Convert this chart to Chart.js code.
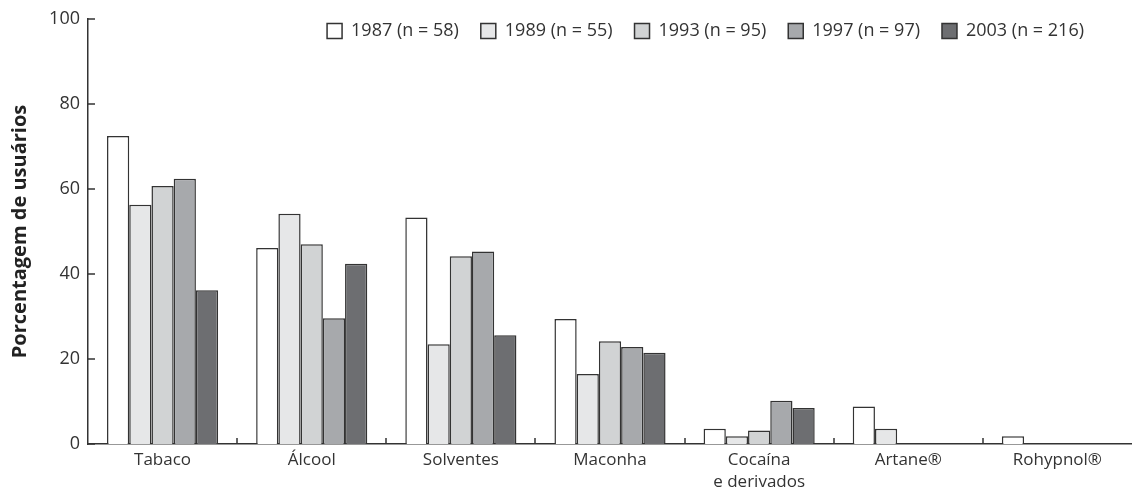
<!DOCTYPE html>
<html>
<head>
<meta charset="utf-8">
<script src="https://cdn.jsdelivr.net/npm/chart.js@4"></script>
<style>
  html, body { margin: 0; padding: 0; background: #fff; }
  #wrap { width: 1132px; height: 498px; }
</style>
</head>
<body>
<div id="wrap"><canvas id="myChart"></canvas></div>
<script>
const ctx = document.getElementById("myChart");

const substances = ["Tabaco", "Álcool", "Solventes", "Maconha", ["Cocaína", "e derivados"], "Artane®", "Rohypnol®"];
const years = ["1987 (n = 58)", "1989 (n = 55)", "1993 (n = 95)", "1997 (n = 97)", "2003 (n = 216)"];

const y1987 = [72.5, 46.1, 53.3, 29.4, 3.6, 8.8, 1.8];
const y1989 = [56.3, 54.2, 23.5, 16.5, 1.8, 3.6, 0];
const y1993 = [60.7, 47.0, 44.2, 24.2, 3.2, 0, 0];
const y1997 = [62.4, 29.6, 45.3, 22.8, 10.2, 0, 0];
const y2003 = [36.2, 42.4, 25.6, 21.5, 8.5, 0, 0];

const yTicks = [0, 20, 40, 60, 80, 100];

const colors = ["#ffffff", "#e6e7e8", "#d1d3d4", "#a7a9ac", "#6d6e71"];
const series = [y1987, y1989, y1993, y1997, y2003];

const ink = "#333333";
const font = "'Open Sans', 'Noto Sans', sans-serif";

// small tick marks drawn inward from the axes
const innerTicks = {
  id: "innerTicks",
  afterDatasetsDraw(chart) {
    const { ctx, scales: { x, y }, chartArea } = chart;
    ctx.save();
    ctx.strokeStyle = ink;
    ctx.lineWidth = 1.5;
    ctx.beginPath();
    for (let i = 1; i < x.ticks.length; i++) {
      const px = Math.round((x.getPixelForTick(i - 1) + x.getPixelForTick(i)) / 2);
      ctx.moveTo(px, chartArea.bottom);
      ctx.lineTo(px, chartArea.bottom - 6);
    }
    y.ticks.forEach((t, i) => {
      const py = y.getPixelForTick(i);
      ctx.moveTo(chartArea.left, py);
      ctx.lineTo(chartArea.left + 7, py);
    });
    ctx.stroke();
    ctx.restore();
  },
};

// legend takes no vertical room and sits over the top of the plot
const legendInside = {
  id: "legendInside",
  beforeLayout(chart) {
    const lg = chart.legend;
    if (lg && !lg._patched) {
      const fit = lg.fit;
      lg.fit = function () {
        fit.call(this);
        this._realHeight = this.height;
        this.height = 0;
      };
      lg._patched = true;
    }
  },
  afterLayout(chart) {
    const lg = chart.legend;
    lg.right -= 26;
    lg.width = lg.right - lg.left;
    lg.top -= 19;
    lg.height = lg._realHeight;
    lg.bottom = lg.top + lg.height;
    lg.adjustHitBoxes();
  },
};

new Chart(ctx, {
  type: "bar",
  data: {
    labels: substances,
    datasets: years.map((label, i) => ({
      label: label,
      data: series[i],
      backgroundColor: colors[i],
      borderColor: ink,
      borderWidth: 1.5,
      categoryPercentage: 0.745,
      barPercentage: 1,
    })),
  },
  options: {
    responsive: true,
    maintainAspectRatio: false,
    animation: false,
    layout: { padding: { top: 19, right: 0, left: 0, bottom: 0 } },
    scales: {
      x: {
        grid: { display: false, drawTicks: false },
        border: { display: true, color: ink, width: 1.5 },
        ticks: {
          color: ink,
          padding: 5,
          maxRotation: 0,
          autoSkip: false,
          font: { family: font, size: 17, lineHeight: 1.3 },
        },
        afterFit(scale) {
          scale.height = 54;
        },
      },
      y: {
        min: 0,
        max: 100,
        afterBuildTicks(scale) {
          scale.ticks = yTicks.map((v) => ({ value: v }));
        },
        grid: { display: false, drawTicks: false },
        border: { display: true, color: ink, width: 1.5 },
        ticks: {
          color: ink,
          padding: 8,
          font: { family: font, size: 18 },
        },
        title: {
          display: true,
          text: "Porcentagem de usuários",
          color: "#222",
          padding: { top: 8, bottom: 0 },
          font: { family: font, size: 20, weight: "bold" },
        },
        afterFit(scale) {
          scale.width = 88;
        },
      },
    },
    plugins: {
      legend: {
        position: "top",
        align: "end",
        labels: {
          color: ink,
          boxWidth: 15,
          boxHeight: 15,
          padding: 22,
          font: { family: font, size: 18 },
        },
      },
      tooltip: { enabled: false },
    },
  },
  plugins: [innerTicks, legendInside],
});
</script>
</body>
</html>
